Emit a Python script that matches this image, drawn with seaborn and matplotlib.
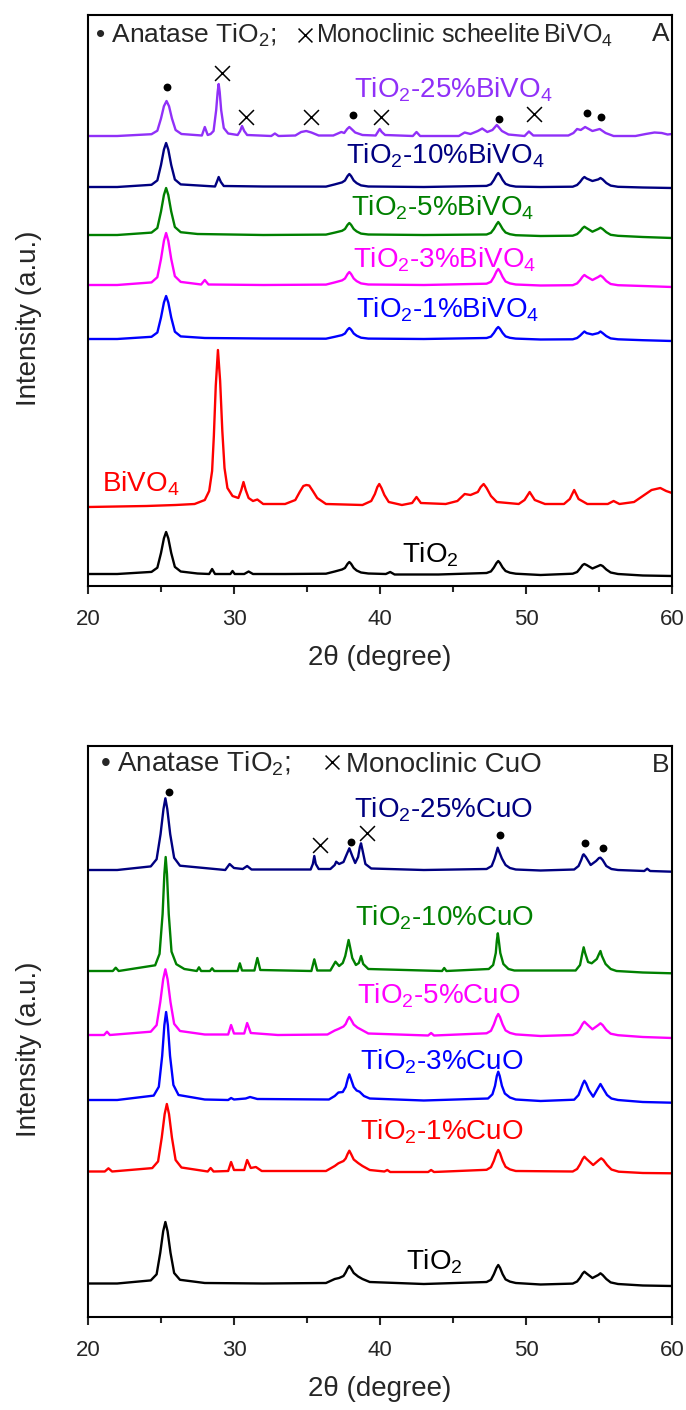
import numpy as np
import pandas as pd
import matplotlib
matplotlib.use('Agg')
import matplotlib.pyplot as plt
import seaborn as sns

# ---- panel A : TiO2 / BiVO4 patterns, (2theta, intensity a.u.) ----
A_TIO2 = [(20, 12), (22, 12), (24.35, 14.1), (24.75, 18.3), (25.0, 33), (25.2, 47.7), (25.35, 54), (25.5, 47.7),
          (25.7, 33), (25.95, 19.1), (26.35, 14.5), (27.5, 12.5), (28.3, 12), (28.5, 17), (28.7, 12),
          (29.75, 12), (29.9, 15), (30.05, 12), (30.7, 12), (31.0, 14.5), (31.3, 12), (33.5, 12), (36.3, 12.3),
          (36.9, 14.5), (37.4, 16.5), (37.6, 18), (37.78, 22.2), (37.9, 24), (38.02, 22.2), (38.2, 18),
          (38.4, 15.5), (38.7, 13.5), (39.2, 12.5), (40.4, 12), (40.7, 14), (41.0, 11.5), (44.0, 11.5),
          (47.3, 13), (47.6, 14.6), (47.8, 18.5), (47.98, 23), (48.1, 25), (48.22, 23), (48.4, 18.5), (48.6, 15),
          (48.9, 13.3), (49.3, 12.3), (51.0, 11), (53.2, 12.3), (53.5, 14), (53.7, 17.5), (53.88, 21), (54.0, 22),
          (54.15, 21), (54.55, 17.5), (54.95, 20), (55.1, 21), (55.25, 20), (55.5, 16.5), (55.8, 13.5),
          (56.3, 12), (58.0, 10.5), (60, 10)]
A_BIVO4 = [(20, 79), (22, 79.5), (24, 80), (26, 81), (27.3, 82), (28.0, 86), (28.3, 95), (28.5, 115), (28.62, 150),
           (28.75, 200), (28.9, 236), (29.05, 205), (29.2, 155), (29.35, 118), (29.55, 98), (29.9, 90), (30.3, 88),
           (30.5, 96), (30.65, 104), (30.8, 96), (31.0, 88), (31.3, 85), (31.6, 86.5), (32.0, 82), (33.5, 82),
           (34.2, 86), (34.5, 94), (34.75, 100), (34.95, 101), (35.15, 100.5), (35.4, 95), (35.7, 88), (36.3, 82),
           (38.8, 81), (39.4, 85), (39.65, 92), (39.82, 99), (39.95, 102), (40.1, 98), (40.3, 91), (40.6, 84),
           (41.5, 81), (42.2, 83), (42.5, 89), (42.8, 83), (44.5, 82), (45.3, 85), (45.8, 92), (46.2, 91),
           (46.7, 94), (46.9, 99), (47.1, 102), (47.3, 98), (47.6, 90), (48.0, 84), (49.5, 82), (49.9, 86),
           (50.25, 94), (50.6, 86), (51.3, 82), (52.6, 82), (53.0, 87), (53.3, 96), (53.6, 87), (54.2, 82),
           (55.6, 82), (56.0, 85), (56.4, 82), (57.4, 84), (58.0, 90), (58.6, 96), (59.2, 98), (59.6, 95), (60, 93)]
A_1 = [(20, 247), (22, 247), (24.35, 249.2), (24.75, 253.5), (25.0, 268.5), (25.2, 283.5), (25.35, 290),
       (25.5, 283.5), (25.7, 268.5), (25.95, 254.3), (26.35, 249.6), (28, 248), (32, 247.5), (36.3, 247.3),
       (36.9, 249.2), (37.4, 250.9), (37.6, 252.5), (37.78, 256.4), (37.9, 258), (38.02, 256.4), (38.2, 252.5),
       (38.4, 250.3), (38.7, 248.3), (39.2, 247.4), (43, 247), (47.3, 248), (47.6, 249.4), (47.8, 253),
       (47.98, 257.2), (48.1, 259), (48.22, 257.2), (48.4, 253), (48.6, 249.6), (48.9, 248.2), (49.3, 247.4),
       (51, 246.5), (53.2, 246.7), (53.5, 248), (53.7, 250.3), (53.88, 252.9), (54.0, 254.5), (54.15, 252.9),
       (54.55, 251.5), (54.95, 252.9), (55.1, 254.5), (55.25, 252.9), (55.5, 249.9), (55.8, 247.6),
       (56.3, 246.7), (58, 245.8), (60, 245)]
A_3 = [(20, 301), (22, 301), (24.35, 303.6), (24.75, 308.8), (25.0, 327), (25.2, 345.2), (25.35, 353),
       (25.5, 345.2), (25.7, 327), (25.95, 309.8), (26.35, 304.1), (27.75, 301.5), (28.0, 306), (28.25, 301.5),
       (32, 301), (36.3, 301.4), (36.9, 303.6), (37.4, 305.6), (37.6, 307.5), (37.78, 312), (37.9, 314),
       (38.02, 312), (38.2, 307.5), (38.4, 304.9), (38.7, 302.6), (39.2, 301.5), (43, 301), (47.3, 302.3),
       (47.6, 304.2), (47.8, 309), (47.98, 314.6), (48.1, 317), (48.22, 314.6), (48.4, 309), (48.6, 304.5),
       (48.9, 302.6), (49.3, 301.5), (51, 300.5), (53.2, 300.8), (53.5, 302.6), (53.7, 305.8), (53.88, 309.4),
       (54.0, 311), (54.15, 309.4), (54.55, 306), (54.95, 309), (55.1, 310.5), (55.25, 309), (55.5, 305),
       (55.8, 302), (56.3, 300.8), (58, 300), (60, 299)]
A_5 = [(20, 351), (22, 351), (24.35, 353.4), (24.75, 358), (25.0, 374.5), (25.2, 391), (25.35, 398), (25.5, 391),
       (25.7, 374.5), (25.95, 359), (26.35, 353.8), (27.5, 352), (32, 351), (36.3, 351.4), (36.9, 353.4),
       (37.4, 355.2), (37.6, 357), (37.78, 361.2), (37.9, 363), (38.02, 361.2), (38.2, 357), (38.4, 354.6),
       (38.7, 352.4), (39.2, 351.5), (43, 351), (47.3, 351.5), (47.6, 353.2), (47.8, 357), (47.98, 361.6),
       (48.1, 364), (48.22, 361.6), (48.4, 357), (48.6, 353.5), (48.9, 351.8), (49.3, 350.8), (51, 350),
       (53.2, 350.3), (53.5, 351.9), (53.7, 354.6), (53.88, 357.9), (54.0, 359.3), (54.15, 357.9), (54.55, 354.3),
       (54.95, 357), (55.1, 358.3), (55.25, 357), (55.5, 353.8), (55.8, 351.2), (56.3, 350.2), (58, 349),
       (60, 348)]
A_10 = [(20, 399), (22, 399), (24.35, 401.2), (24.75, 405.6), (25.0, 421), (25.2, 436.4), (25.35, 443),
        (25.5, 436.4), (25.7, 421), (25.95, 406.5), (26.35, 401.6), (28.7, 399.5), (28.85, 405), (28.95, 409),
        (29.1, 404), (29.3, 400), (32, 399.5), (36.3, 399.4), (36.9, 401.6), (37.4, 403.6), (37.6, 405.5),
        (37.78, 410), (37.9, 412), (38.02, 410), (38.2, 405.5), (38.4, 402.9), (38.7, 400.6), (39.2, 399.5),
        (43, 399), (47.3, 400.1), (47.6, 401.8), (47.8, 406), (47.98, 410.9), (48.1, 413), (48.22, 410.9),
        (48.4, 406), (48.6, 402.1), (48.9, 400.4), (49.3, 399.4), (51, 399), (53.2, 399.3), (53.5, 401),
        (53.7, 404), (53.88, 407.5), (54.0, 409), (54.15, 407.5), (54.55, 405), (54.95, 406.6), (55.1, 408),
        (55.25, 406.6), (55.5, 403), (55.8, 400.4), (56.3, 399.2), (58, 398.5), (60, 398)]
A_25 = [(20, 450), (22, 450), (24.35, 451.8), (24.75, 455.3), (25.0, 467.5), (25.2, 479.8), (25.38, 485),
        (25.55, 479.8), (25.75, 467.5), (26.0, 456), (26.4, 452), (27.8, 450.5), (28.0, 459), (28.2, 451),
        (28.4, 452), (28.6, 455), (28.78, 476), (28.88, 494), (28.95, 502), (29.02, 494), (29.12, 476),
        (29.3, 458), (29.6, 452.5), (30.25, 451), (30.42, 455), (30.55, 460), (30.7, 455), (30.9, 451),
        (32.55, 450), (32.8, 452.5), (33.05, 450), (34.2, 450.5), (34.6, 454), (34.95, 455), (35.3, 453.5),
        (35.8, 450.5), (36.8, 450.5), (37.35, 454), (37.55, 453), (37.75, 457), (37.9, 459), (38.05, 457),
        (38.3, 453.5), (38.8, 451), (39.7, 450.5), (39.85, 454), (39.98, 457), (40.12, 454), (40.35, 451),
        (42.25, 450), (42.5, 454), (42.75, 450), (45.4, 450), (45.8, 453.5), (46.2, 452), (46.7, 455),
        (47.0, 457.5), (47.35, 454), (47.7, 456), (47.88, 459), (48.0, 461), (48.12, 459), (48.35, 455),
        (48.8, 451.5), (49.9, 450), (50.2, 454.5), (50.5, 450.5), (52.9, 450.5), (53.25, 453), (53.5, 457),
        (53.75, 456), (54.05, 459), (54.55, 455), (55.05, 457), (55.45, 453), (56.0, 450), (57.5, 450),
        (58.2, 452), (58.8, 453.5), (59.3, 453), (59.7, 451.5), (60, 452)]

# ---- panel B : TiO2 / CuO patterns ----
B_TIO2 = [(20, 33.5), (22, 33.5), (24.3, 36.6), (24.7, 42.7), (24.95, 64.3), (25.15, 85.8), (25.3, 95),
          (25.45, 85.8), (25.65, 64.3), (25.9, 44), (26.3, 37.2), (28, 34), (32, 33.5), (36.3, 34), (36.9, 38),
          (37.2, 39), (37.5, 41), (37.65, 44.5), (37.78, 48.5), (37.9, 51), (38.02, 48.5), (38.2, 44),
          (38.5, 40.5), (38.8, 38), (39.3, 35), (43, 33), (47.3, 35), (47.6, 37.2), (47.8, 42.8), (47.98, 49.2),
          (48.1, 52), (48.22, 49.2), (48.4, 42.8), (48.6, 37.6), (48.9, 35.4), (49.3, 34), (51, 32.5),
          (53.2, 33.4), (53.5, 35.5), (53.7, 39.2), (53.88, 43.5), (54.0, 45.3), (54.15, 43.5), (54.55, 39),
          (54.95, 42), (55.1, 43.7), (55.25, 42), (55.5, 38), (55.8, 34.6), (56.3, 33), (58, 31.5), (60, 31)]
B_1 = [(20, 145.5), (21.15, 145.5), (21.4, 148.7), (21.65, 145.5), (24.4, 148.9), (24.8, 155.6), (25.05, 179.3),
       (25.25, 202.9), (25.4, 213), (25.55, 202.9), (25.75, 179.3), (26.0, 157), (26.4, 149.5), (28.2, 145.5),
       (28.4, 149), (28.6, 145.5), (29.6, 146), (29.8, 155), (30.0, 147), (30.7, 147), (30.9, 157),
       (31.15, 149), (31.5, 150), (31.9, 146), (36.3, 146), (36.9, 151), (37.15, 153.7), (37.5, 156),
       (37.65, 158.5), (37.78, 163), (37.9, 166.3), (38.02, 163), (38.2, 157.5), (38.5, 154), (38.8, 151),
       (39.3, 147), (40.3, 145.5), (40.5, 147), (40.7, 145), (43.3, 145), (43.5, 147), (43.7, 145),
       (47.3, 147.2), (47.6, 149.8), (47.8, 156.2), (47.98, 163.8), (48.1, 167), (48.22, 163.8), (48.4, 156.2),
       (48.6, 150.2), (48.9, 147.6), (49.3, 146), (53.2, 145.5), (53.5, 148), (53.7, 152.7), (53.88, 158),
       (54.0, 160.3), (54.15, 158), (54.6, 152), (55.0, 157), (55.15, 158.7), (55.3, 157), (55.55, 152),
       (55.85, 147.5), (56.35, 145.3), (58, 144), (60, 143.7)]
B_3 = [(20, 217), (22, 217), (24.5, 221.4), (24.85, 230.2), (25.08, 261), (25.23, 291.8), (25.35, 305),
       (25.47, 291.8), (25.62, 261), (25.85, 232), (26.2, 222), (28, 217.5), (29.6, 217), (29.8, 219),
       (30.0, 217.5), (30.8, 218.5), (31.1, 220), (31.6, 218), (36.5, 217.5), (36.9, 221), (37.15, 224.5),
       (37.45, 225), (37.65, 230), (37.8, 238.5), (37.9, 242.7), (38.0, 238.5), (38.2, 230), (38.4, 226.5),
       (38.6, 225.3), (38.9, 221), (39.3, 218.5), (43, 216.5), (47.4, 218.5), (47.7, 222.7), (47.88, 231.2),
       (48.0, 241), (48.1, 245.3), (48.2, 241), (48.35, 231.2), (48.55, 223.5), (48.9, 219.5), (49.3, 217.5),
       (51, 216), (53.3, 217.3), (53.6, 222), (53.78, 229), (53.9, 233.5), (54.0, 236.3), (54.12, 233.5),
       (54.3, 227), (54.6, 220.3), (54.9, 228), (55.1, 233), (55.3, 228), (55.55, 222), (55.85, 218.5),
       (56.3, 217), (58, 215), (60, 214.3)]
B_5 = [(20, 282), (21.1, 282), (21.3, 285.3), (21.5, 282), (24.3, 285.3), (24.7, 291.9), (24.95, 314.9),
       (25.15, 337.8), (25.3, 347.7), (25.45, 337.8), (25.65, 314.9), (25.9, 293.2), (26.3, 286), (28, 282.5),
       (29.6, 282.5), (29.8, 292), (30.0, 283.5), (30.7, 283.5), (30.9, 294), (31.15, 284), (33, 282),
       (36.4, 282.5), (36.9, 286.5), (37.15, 288), (37.5, 290.5), (37.65, 293), (37.78, 297.3), (37.9, 300),
       (38.02, 297.3), (38.2, 292.5), (38.45, 289.5), (38.7, 287.5), (39.2, 283.5), (43.3, 281.5), (43.5, 284),
       (43.7, 281.5), (47.3, 283.7), (47.6, 286.2), (47.8, 292.5), (47.98, 299.9), (48.1, 303), (48.22, 299.9),
       (48.4, 292.5), (48.6, 286.6), (48.9, 284.1), (49.3, 282.6), (51, 281), (53.2, 282), (53.5, 284.3),
       (53.7, 288.4), (53.88, 293.2), (54.0, 295.3), (54.15, 293.2), (54.55, 287.7), (54.95, 291.9),
       (55.1, 293.7), (55.25, 291.9), (55.5, 287), (55.8, 283.3), (56.3, 281.8), (58, 280), (60, 279)]
B_10 = [(20, 346), (21.7, 346), (21.9, 349.3), (22.1, 346), (24.6, 351.7), (24.9, 363.1), (25.11, 403),
        (25.23, 442.9), (25.32, 460), (25.41, 442.9), (25.53, 403), (25.72, 365.4), (26.05, 352.8), (26.6, 348),
        (27.45, 346), (27.6, 349.7), (27.75, 346), (28.35, 346), (28.5, 348.7), (28.65, 346), (30.25, 346),
        (30.4, 353.7), (30.55, 346.5), (31.4, 346.5), (31.6, 359), (31.8, 347), (35.3, 346), (35.5, 357.7),
        (35.7, 346.5), (36.6, 346.5), (36.95, 355.3), (37.2, 351), (37.45, 354), (37.62, 361), (37.75, 370),
        (37.85, 377), (37.95, 370), (38.1, 359), (38.35, 352), (38.55, 354), (38.7, 361), (38.85, 353),
        (39.2, 348), (44.25, 346), (44.4, 349), (44.55, 346), (47.45, 348), (47.75, 352), (47.93, 364),
        (48.0, 376), (48.07, 383.7), (48.14, 376), (48.24, 364), (48.45, 353), (48.8, 348), (49.2, 346.5),
        (53.4, 346.5), (53.7, 352), (53.85, 363), (53.95, 369.7), (54.05, 364), (54.25, 355), (54.5, 353.7),
        (54.85, 358), (55.0, 363), (55.1, 366), (55.2, 361), (55.45, 353), (55.8, 348), (56.2, 346),
        (58, 344.5), (60, 343.7)]
B_25 = [(20, 447), (22, 447), (24.3, 450.6), (24.7, 457.8), (24.97, 482.9), (25.17, 508), (25.3, 518.7),
        (25.43, 508), (25.63, 482.9), (25.9, 459.2), (26.3, 451.3), (29.4, 447), (29.7, 453), (30.0, 449),
        (30.6, 448), (30.9, 451), (31.2, 447.5), (35.25, 447.5), (35.4, 453), (35.5, 461), (35.6, 453),
        (35.8, 448), (36.6, 448), (36.9, 452), (37.0, 455.3), (37.2, 453), (37.5, 455), (37.7, 462),
        (37.9, 468.7), (38.1, 461), (38.3, 454), (38.5, 460), (38.62, 470), (38.7, 473.7), (38.8, 467),
        (39.0, 453), (39.4, 448.5), (43, 447), (47.3, 448), (47.65, 451), (47.85, 458.5), (47.98, 465),
        (48.06, 469.3), (48.17, 465), (48.35, 458.5), (48.6, 452), (48.9, 449), (49.3, 447.5), (51, 446.5),
        (53.3, 447.5), (53.6, 451), (53.78, 457), (53.9, 462), (53.95, 462.7), (54.1, 460), (54.43, 452),
        (54.8, 456), (55.0, 459), (55.1, 459.3), (55.25, 457), (55.5, 451), (55.85, 448), (56.3, 447),
        (58.1, 446), (58.3, 448.3), (58.5, 446), (60, 445.3)]

# sample names, colours, label anchors (left edge 2theta, baseline intensity)
A_SAMPLES = ['TiO2', 'BiVO4', '1%', '3%', '5%', '10%', '25%']
A_LABELS = ['TiO$_2$', 'BiVO$_4$', 'TiO$_2$-1%BiVO$_4$', 'TiO$_2$-3%BiVO$_4$', 'TiO$_2$-5%BiVO$_4$',
            'TiO$_2$-10%BiVO$_4$', 'TiO$_2$-25%BiVO$_4$']
A_LABEL_X = [41.5, 20.95, 38.35, 38.15, 38.0, 37.7, 38.2]
A_LABEL_Y = [24, 95, 268, 319, 370, 422, 489]
B_SAMPLES = ['TiO2', '1%', '3%', '5%', '10%', '25%']
B_LABELS = ['TiO$_2$', 'TiO$_2$-1%CuO', 'TiO$_2$-3%CuO', 'TiO$_2$-5%CuO', 'TiO$_2$-10%CuO', 'TiO$_2$-25%CuO']
B_LABEL_X = [41.8, 38.6, 38.6, 38.4, 38.3, 38.2]
B_LABEL_Y = [47, 178, 248, 314, 392, 499]
A_COLORS = ['black', '#ff0000', '#0000ff', '#ff00ff', '#008000', '#000080', '#9030f8']
B_COLORS = ['black', '#ff0000', '#0000ff', '#ff00ff', '#008000', '#000080']

# phase markers (anatase dots, x for second phase)
A_DOT_X = [25.43, 38.15, 48.17, 54.16, 55.14]
A_DOT_Y = [499, 471, 467, 473, 469]
A_CROSS_X = [29.2, 30.84, 35.25, 40.09, 50.55]
A_CROSS_Y = [513, 469, 469, 469, 472]
B_DOT_X = [25.54, 37.98, 48.25, 54.06, 55.29]
B_DOT_Y = [525, 475, 482, 474, 469]
B_CROSS_X = [35.88, 39.1]
B_CROSS_Y = [472, 484]
# the cross symbol in each key line
KEY_CROSS_A = (34.83, 551)
KEY_CROSS_B = (36.7, 555)


def to_frame(traces, names):
    parts = []
    for pts, name in zip(traces, names):
        d = pd.DataFrame(pts, columns=['two_theta', 'intensity'])
        d['sample'] = name
        parts.append(d)
    return pd.concat(parts, ignore_index=True)


dfA = to_frame([A_TIO2, A_BIVO4, A_1, A_3, A_5, A_10, A_25], A_SAMPLES)
dfB = to_frame([B_TIO2, B_1, B_3, B_5, B_10, B_25], B_SAMPLES)

sns.set_style('white')
plt.rcParams['font.family'] = ['Liberation Sans', 'DejaVu Sans']
plt.rcParams['mathtext.fontset'] = 'custom'
plt.rcParams['mathtext.rm'] = 'Liberation Sans'
plt.rcParams['mathtext.it'] = 'Liberation Sans:italic'
plt.rcParams['mathtext.bf'] = 'Liberation Sans:bold'

W, H = 686, 1410
fig = plt.figure(figsize=(W / 100, H / 100), dpi=100)
axA = fig.add_axes([88 / W, 1 - 586 / H, 584 / W, 571 / H])
axB = fig.add_axes([88 / W, 1 - 1317 / H, 584 / W, 571 / H])


def style_axis(ax):
    ax.set_xlim(20, 60)
    ax.set_ylim(0, 571)
    ax.set_yticks([])
    ax.set_xticks([20, 30, 40, 50, 60])
    ax.set_xticks([25, 35, 45, 55], minor=True)
    ax.tick_params(axis='x', which='major', direction='out', length=6, width=1.5,
                   labelsize=16, pad=10.5, bottom=True)
    ax.tick_params(axis='x', which='minor', direction='out', length=4, width=1.5, bottom=True)
    for s in ax.spines.values():
        s.set_linewidth(1.5)
        s.set_color('black')
    ax.set_xlabel('2θ (degree)', fontsize=20, labelpad=11)
    ax.set_ylabel('Intensity (a.u.)', fontsize=20)
    ax.yaxis.set_label_coords(-0.078, 0.469)


for ax, df, names, cols, labels, lx, ly in [
        (axA, dfA, A_SAMPLES, A_COLORS, A_LABELS, A_LABEL_X, A_LABEL_Y),
        (axB, dfB, B_SAMPLES, B_COLORS, B_LABELS, B_LABEL_X, B_LABEL_Y)]:
    sns.lineplot(data=df, x='two_theta', y='intensity', hue='sample',
                 palette=dict(zip(names, cols)), estimator=None, sort=False,
                 legend=False, linewidth=1.7, ax=ax)
    for lab, x, y, c in zip(labels, lx, ly, cols):
        ax.text(x, y, lab, color=c, fontsize=20, ha='left', va='baseline')
    style_axis(ax)

sns.scatterplot(x=A_DOT_X, y=A_DOT_Y, marker='o', color='black', s=32, linewidth=0, ax=axA)
sns.scatterplot(x=A_CROSS_X, y=A_CROSS_Y, marker='x', color='black', s=115, linewidth=1.1, ax=axA)
sns.scatterplot(x=B_DOT_X, y=B_DOT_Y, marker='o', color='black', s=32, linewidth=0, ax=axB)
sns.scatterplot(x=B_CROSS_X, y=B_CROSS_Y, marker='x', color='black', s=115, linewidth=1.1, ax=axB)
sns.scatterplot(x=[KEY_CROSS_A[0]], y=[KEY_CROSS_A[1]], marker='x', color='black', s=100, linewidth=1.1, ax=axA)
sns.scatterplot(x=[KEY_CROSS_B[0]], y=[KEY_CROSS_B[1]], marker='x', color='black', s=100, linewidth=1.1, ax=axB)

# phase key at the top of each panel
axA.text(20.45, 543, '\u2022 Anatase TiO$_2$;', fontsize=19, ha='left', va='baseline')
axA.text(35.64, 543, 'Monoclinic scheelite$\\,$BiVO$_4$', fontsize=18, ha='left', va='baseline')
axA.text(59.8, 545, 'A', fontsize=19, ha='right', va='baseline')
axB.text(20.8, 545, '\u2022 Anatase TiO$_2$;', fontsize=20, ha='left', va='baseline')
axB.text(37.65, 545, 'Monoclinic CuO', fontsize=20, ha='left', va='baseline')
axB.text(59.8, 545, 'B', fontsize=19, ha='right', va='baseline')

fig.savefig('out.png', dpi=100)
